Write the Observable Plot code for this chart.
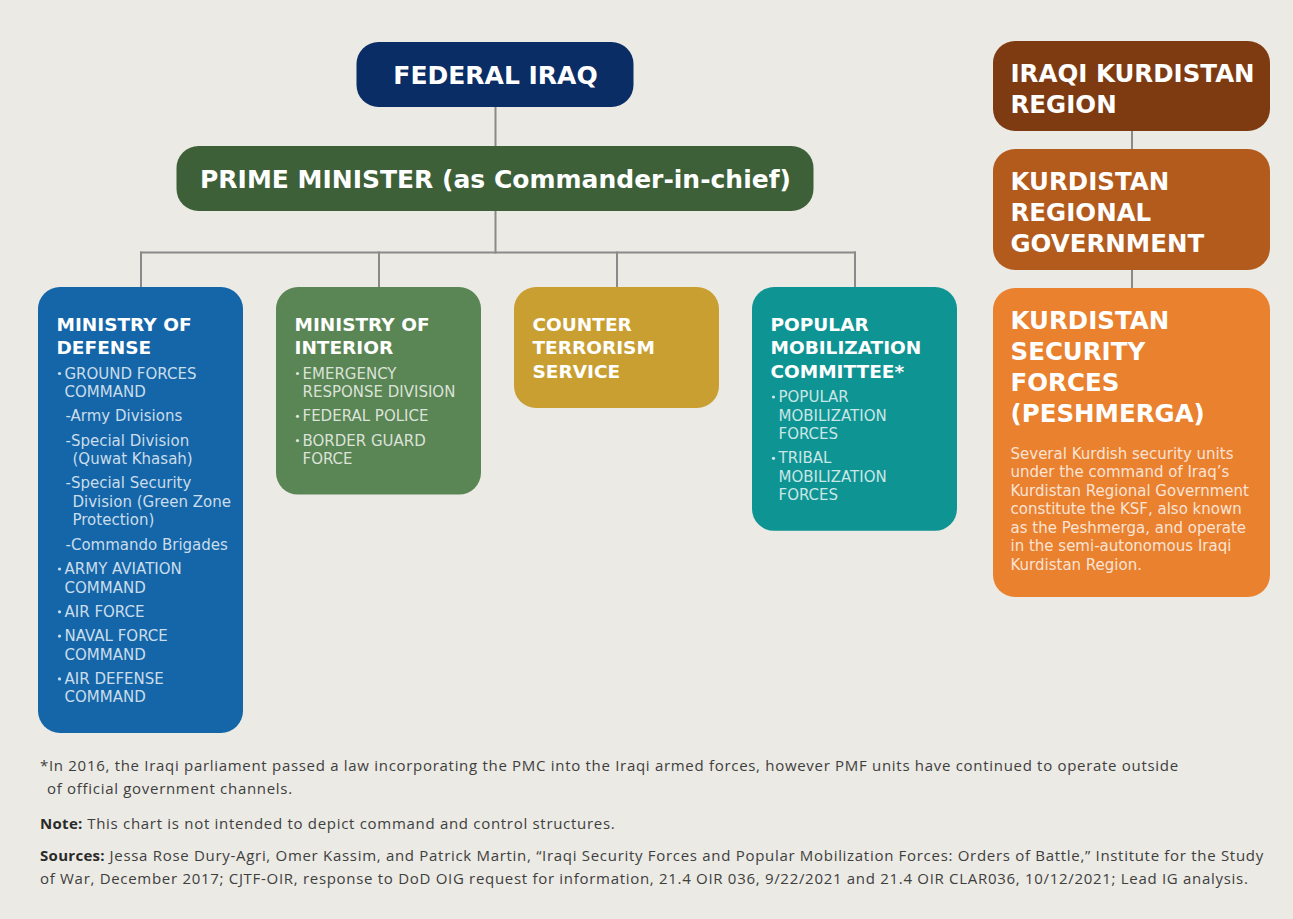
<!DOCTYPE html>
<html>
<head>
<meta charset="utf-8">
<script src="https://cdn.jsdelivr.net/npm/d3@7"></script>
<script src="https://cdn.jsdelivr.net/npm/@observablehq/plot@0.6"></script>
<style>
  html, body { margin: 0; padding: 0; background: #ebeae4; }
  #chart svg { display: block; }
  #notes { font-family: "Open Sans", sans-serif; font-size: 15px; letter-spacing: 0.7px; color: #3e3e3e; line-height: 23px; padding-left: 40px; margin-top: 9px; }
  #notes p { margin: 0; white-space: nowrap; }
  #notes .indent { padding-left: 7px; }
  #notes .gapA { margin-top: 12px; }
  #notes .gapB { margin-top: 9px; }
  #notes b { color: #2a2a2a; letter-spacing: 0.3px; }
</style>
</head>
<body>
<div id="chart"></div>
<div id="notes"></div>
<script>
// ---------------- data ----------------
const federalLevels = ["FEDERAL IRAQ", "PRIME MINISTER (as Commander-in-chief)"];

const branchNames = [
  "MINISTRY OF\nDEFENSE",
  "MINISTRY OF\nINTERIOR",
  "COUNTER\nTERRORISM\nSERVICE",
  "POPULAR\nMOBILIZATION\nCOMMITTEE*"
];

const defenseUnits = [
  "GROUND FORCES\nCOMMAND",
  "-Army Divisions",
  "-Special Division\n(Quwat Khasah)",
  "-Special Security\nDivision (Green Zone\nProtection)",
  "-Commando Brigades",
  "ARMY AVIATION\nCOMMAND",
  "AIR FORCE",
  "NAVAL FORCE\nCOMMAND",
  "AIR DEFENSE\nCOMMAND"
];
const interiorUnits = [
  "EMERGENCY\nRESPONSE DIVISION",
  "FEDERAL POLICE",
  "BORDER GUARD\nFORCE"
];
const counterTerrorismUnits = [];
const mobilizationUnits = [
  "POPULAR\nMOBILIZATION\nFORCES",
  "TRIBAL\nMOBILIZATION\nFORCES"
];
const branchUnits = [defenseUnits, interiorUnits, counterTerrorismUnits, mobilizationUnits];

const kurdishLevels = [
  "IRAQI KURDISTAN\nREGION",
  "KURDISTAN\nREGIONAL\nGOVERNMENT",
  "KURDISTAN\nSECURITY\nFORCES\n(PESHMERGA)"
];
const ksfDescription = [
  "Several Kurdish security units",
  "under the command of Iraq\u2019s",
  "Kurdistan Regional Government",
  "constitute the KSF, also known",
  "as the Peshmerga, and operate",
  "in the semi-autonomous Iraqi",
  "Kurdistan Region."
];

const footnoteLines = [
  "*In 2016, the Iraqi parliament passed a law incorporating the PMC into the Iraqi armed forces, however PMF units have continued to operate outside",
  "of official government channels."
];
const noteLabel = "Note:";
const noteText = "This chart is not intended to depict command and control structures.";
const sourcesLabel = "Sources:";
const sourcesLines = [
  "Jessa Rose Dury-Agri, Omer Kassim, and Patrick Martin, \u201CIraqi Security Forces and Popular Mobilization Forces: Orders of Battle,\u201D Institute for the Study",
  "of War, December 2017; CJTF-OIR, response to DoD OIG request for information, 21.4 OIR 036, 9/22/2021 and 21.4 OIR CLAR036, 10/12/2021; Lead IG analysis."
];

// ---------------- styles ----------------
const federalColors = ["#0b2d66", "#3e6039"];
const branchColors = ["#1466a9", "#5a8554", "#c99f32", "#0f9494"];
const kurdishColors = ["#7e3b12", "#b35a1d", "#ea812f"];
const lineColor = "#8a8a8a";

// ---------------- layout ----------------
const W = 1293, H = 745;
const boxes = [], links = [];
const tBig = [], tKurd = [], tHead = [], tItem = [], dots = [], tDesc = [];

// federal chain
const cx = 495, fedWidths = [277, 637], fedTop = 42, fedH = 65, fedGap = 39, bigSize = 25;
federalLevels.forEach((name, i) => {
  const y1 = fedTop + i * (fedH + fedGap), y2 = y1 + fedH;
  boxes.push({x1: cx - fedWidths[i] / 2, x2: cx + fedWidths[i] / 2, y1, y2, fill: federalColors[i]});
  tBig.push({x: cx, y: (y1 + y2) / 2 + 0.36 * bigSize, text: name});
  if (i > 0) links.push({x1: cx, y1: y1 - fedGap, x2: cx, y2: y1});
});
const pmBottom = fedTop + federalLevels.length * fedH + (federalLevels.length - 1) * fedGap;

// branches
const busY = 252, bTop = 287, bLeft = 38, bStep = 238, bW = 205;
const centers = branchNames.map((_, j) => bLeft + j * bStep + bW / 2);
links.push({x1: cx, y1: pmBottom, x2: cx, y2: busY});
links.push({x1: centers[0], y1: busY, x2: centers[centers.length - 1], y2: busY});
branchNames.forEach((name, j) => {
  const x1 = bLeft + j * bStep;
  links.push({x1: centers[j], y1: busY, x2: centers[j], y2: bTop});
  let y = bTop + 43;
  name.split("\n").forEach((line, k) => { if (k) y += 23.5; tHead.push({x: x1 + 18, y, text: line}); });
  branchUnits[j].forEach((unit, u) => {
    y += u === 0 ? 24.5 : 24.3;
    const sub = unit.startsWith("-");
    if (!sub) dots.push({x: x1 + 21, y: y - 5});
    unit.split("\n").forEach((line, k) => {
      if (k) y += 18.5;
      tItem.push({x: x1 + (sub ? (k ? 34 : 27) : 26), y, text: line});
    });
  });
  boxes.push({x1, x2: x1 + bW, y1: bTop, y2: y + 31, fill: branchColors[j]});
});

// kurdish chain
const kLeft = 993, kW = 277, kCx = kLeft + kW / 2;
let ky = 41, prevBottom = null;
kurdishLevels.forEach((name, i) => {
  const y1 = ky;
  let y = y1 + 40;
  name.split("\n").forEach((line, k) => { if (k) y += 31; tKurd.push({x: kLeft + 17, y, text: line}); });
  let pad = 19;
  if (i === kurdishLevels.length - 1) {
    y += 37;
    ksfDescription.forEach((line, k) => { if (k) y += 18.5; tDesc.push({x: kLeft + 17, y, text: line}); });
    pad = 28;
  }
  const y2 = y + pad;
  boxes.push({x1: kLeft, x2: kLeft + kW, y1, y2, fill: kurdishColors[i]});
  if (prevBottom !== null) links.push({x1: kCx, y1: prevBottom, x2: kCx, y2: y1});
  prevBottom = y2;
  ky = y2 + 18;
});

// ---------------- plot ----------------
const textBase = {x: "x", y: "y", text: "text", lineAnchor: "bottom", fill: "white"};
const chart = Plot.plot({
  width: W, height: H, margin: 0,
  x: {domain: [0, W], range: [0, W], axis: null},
  y: {domain: [0, H], range: [0, H], axis: null},
  color: {type: "identity"},
  style: {background: "transparent", overflow: "visible"},
  marks: [
    Plot.link(links, {x1: "x1", y1: "y1", x2: "x2", y2: "y2", stroke: lineColor, strokeWidth: 2, strokeLinecap: "square"}),
    Plot.rect(boxes, {x1: "x1", x2: "x2", y1: "y1", y2: "y2", fill: "fill", rx: 22}),
    Plot.text(tBig, {...textBase, textAnchor: "middle", fontFamily: "DejaVu Sans", fontWeight: "bold", fontSize: bigSize}),
    Plot.text(tKurd, {...textBase, textAnchor: "start", fontFamily: "DejaVu Sans", fontWeight: "bold", fontSize: 24.5}),
    Plot.text(tHead, {...textBase, textAnchor: "start", fontFamily: "DejaVu Sans", fontWeight: "bold", fontSize: 18.5}),
    Plot.text(tItem, {...textBase, textAnchor: "start", fontFamily: "DejaVu Sans", fontSize: 15, fillOpacity: 0.78}),
    Plot.dot(dots, {x: "x", y: "y", r: 1.6, fill: "white", fillOpacity: 0.78}),
    Plot.text(tDesc, {...textBase, textAnchor: "start", fontFamily: "DejaVu Sans", fontSize: 15, fillOpacity: 0.8})
  ]
});
document.getElementById("chart").appendChild(chart);

// ---------------- notes ----------------
const notes = document.getElementById("notes");
function para(cls, html) { const p = document.createElement("p"); if (cls) p.className = cls; p.innerHTML = html; notes.appendChild(p); }
para("", footnoteLines[0]);
para("indent", footnoteLines[1]);
para("gapA", `<b>${noteLabel}</b> ${noteText}`);
para("gapB", `<b>${sourcesLabel}</b> ${sourcesLines[0]}`);
para("", sourcesLines[1]);
</script>
</body>
</html>
